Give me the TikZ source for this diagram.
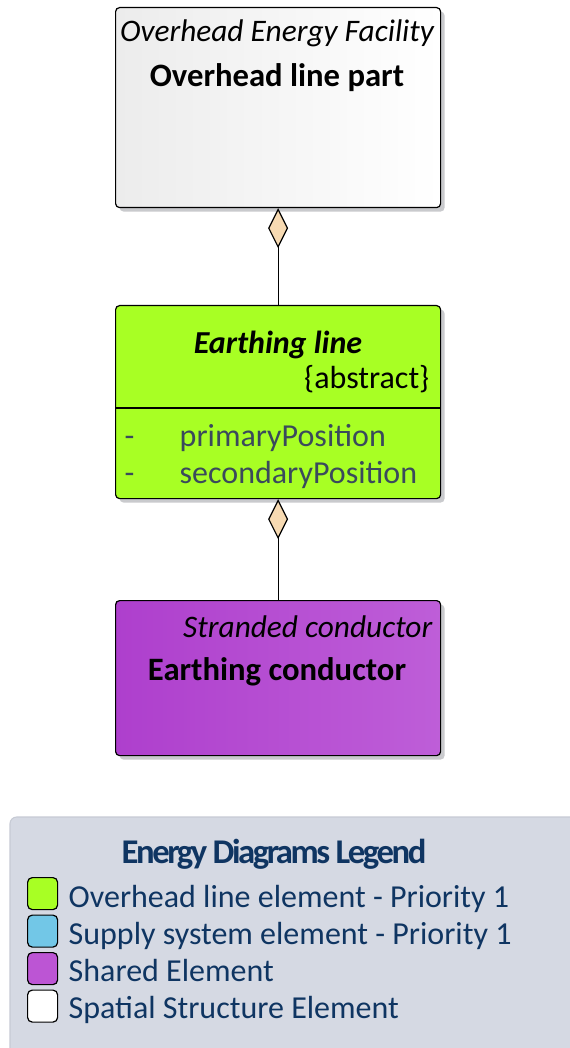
\documentclass[tikz,border=0pt]{standalone}
\usepackage{fontspec}
\setmainfont{Carlito}
\usetikzlibrary{arrows.meta, positioning, calc, shadows}
\definecolor{facetgrey}{HTML}{ECECEC}
\definecolor{linegreen}{HTML}{A8FF24}
\definecolor{sharedlo}{HTML}{AE3FCD}
\definecolor{sharedhi}{HTML}{BE5ED8}
\definecolor{sharedswatch}{HTML}{BC55D4}
\definecolor{supplyblue}{HTML}{72C7E7}
\definecolor{diamondtan}{HTML}{F7DAB2}
\definecolor{attrink}{HTML}{3A4A5C}
\definecolor{legendbg}{HTML}{D5D9E3}
\definecolor{legendedge}{HTML}{C6CAD4}
\definecolor{legendink}{HTML}{0F3562}
\definecolor{shadowgrey}{HTML}{C9CACD}

\tikzset{
  umlbox/.style={draw, line width=0.9pt, rounded corners=3pt, anchor=north west,
    minimum width=243.75pt, inner sep=0pt,
    drop shadow={shadow xshift=3pt, shadow yshift=-3pt, fill=shadowgrey, opacity=1}},
  swatch/.style={draw, line width=0.9pt, rounded corners=3.5pt, anchor=north west,
    minimum width=22.5pt, minimum height=24pt, inner sep=0pt},
  owns/.style={draw, line width=0.9pt,
    {Diamond[length=30pt, width=15pt, line width=0.9pt, fill=diamondtan]}-},
  boxfont/.style={font=\fontsize{24}{28}\selectfont},
}

\begin{document}
\begin{tikzpicture}[x=0.75pt, y=-0.75pt, boxfont]
  \useasboundingbox (0,0) rectangle (569,1048);

  % classes
  \node[umlbox, minimum height=150pt, shading=axis, left color=facetgrey,
        right color=white] (part) at (115,7) {};
  \node[umlbox, minimum height=144.75pt, fill=linegreen] (line) at (115,305) {};
  \node[umlbox, minimum height=116.25pt, shading=axis, left color=sharedlo,
        right color=sharedhi] (cond) at (115,600) {};

  \node[anchor=base, font=\fontsize{23.5}{28}\itshape] (partstereo) at (277,42)
    {Overhead Energy Facility};
  \node[anchor=base, font=\fontsize{24.5}{28}\bfseries] (partname) at (277,87)
    {Overhead line part};

  \node[anchor=base, font=\fontsize{24}{28}\bfseries\itshape] (linename) at (278,353)
    {Earthing line};
  \node[anchor=base east] (lineabs) at (434,388) {\{abstract\}};
  \draw[line width=0.9pt] ([yshift=-77.25pt]line.north west)
    -- ([yshift=-77.25pt]line.north east);
  \foreach \attr [count=\row from 0] in {primaryPosition, secondaryPosition}{%
    \node[anchor=base west, text=attrink] at (120,446+37*\row) {-};
    \node[anchor=base west, text=attrink] at (175,446+37*\row) {\attr};}

  \node[anchor=base east, font=\fontsize{23.5}{28}\itshape] (condstereo) at (437,637)
    {Stranded conductor};
  \node[anchor=base, font=\fontsize{24.5}{28}\bfseries] (condname) at (277,680)
    {Earthing conductor};

  % aggregations
  \draw[owns] (part.south) -- (line.north);
  \draw[owns] (line.south) -- (cond.north);

  % legend
  \draw[legendedge, fill=legendbg, rounded corners=5pt, line width=0.8pt]
    (10,817) rectangle (600,1080);
  \node[anchor=base, text=legendink,
        font=\fontsize{26}{30}\bfseries\addfontfeature{LetterSpace=-7}]
    (legendtitle) at (274,863) {Energy Diagrams Legend};
  \foreach \lab/\col [count=\row from 0] in
    {Overhead line element - Priority 1/linegreen,
     Supply system element - Priority 1/supplyblue,
     Shared Element/sharedswatch,
     Spatial Structure Element/white}{%
    \node[swatch, fill=\col] at (27,877+37.5*\row) {};
    \node[anchor=base west, text=legendink] at (64,907+37.2*\row) {\lab};}
\end{tikzpicture}
\end{document}
